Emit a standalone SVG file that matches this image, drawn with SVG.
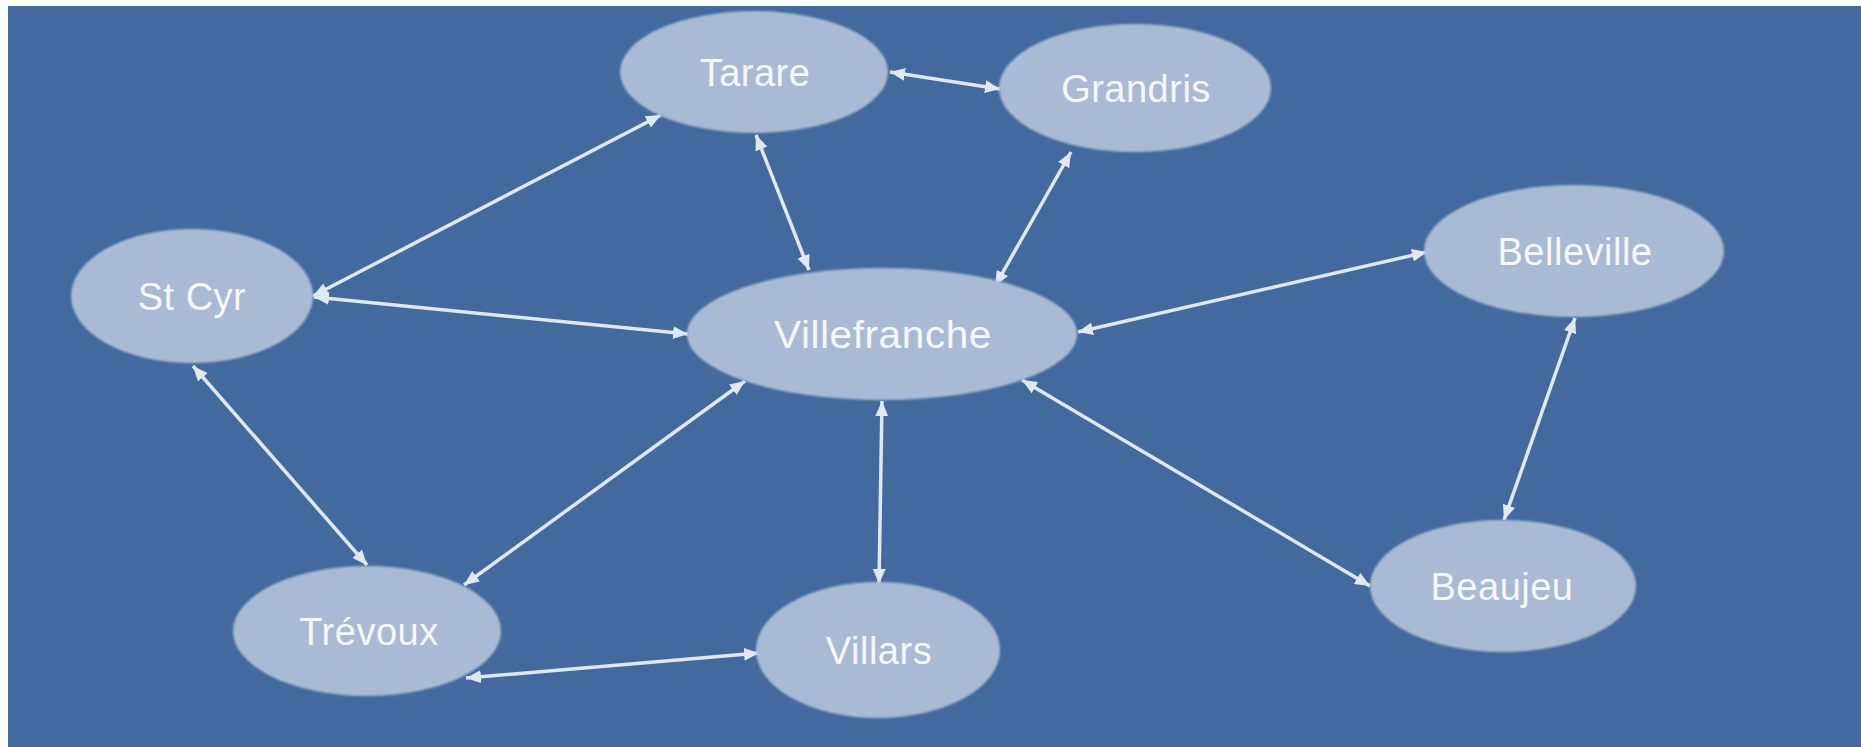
<svg xmlns="http://www.w3.org/2000/svg" width="1861" height="747" viewBox="0 0 1861 747">
<defs>
<style>
.node ellipse{fill:#a9bbd4;filter:url(#soft)}
.node text{font-family:"Liberation Sans",Arial,sans-serif;font-size:38px;fill:#f6f8fb;text-anchor:middle;letter-spacing:0.5px}
.edge{stroke:#dfe8f3;stroke-width:3.5;fill:none;marker-start:url(#ah);marker-end:url(#ah)}
</style>
<filter id="soft" x="-5%" y="-5%" width="110%" height="110%"><feGaussianBlur stdDeviation="1.2"/></filter>
<marker id="ah" viewBox="0 0 14 12" refX="14" refY="6" markerWidth="15" markerHeight="13" markerUnits="userSpaceOnUse" orient="auto-start-reverse">
<path d="M0,0 L14,6 L0,12 z" fill="#dfe8f3"/>
</marker>
</defs>
<rect x="0" y="0" width="1861" height="747" fill="#ffffff"/>
<rect x="8" y="6" width="1853" height="741" fill="#426a9e"/>
<g id="connectors">
<line class="edge" x1="890" y1="72" x2="1000" y2="89"/>
<line class="edge" x1="313" y1="296" x2="661" y2="115"/>
<line class="edge" x1="314" y1="297" x2="688" y2="334"/>
<line class="edge" x1="756" y1="135" x2="809" y2="270"/>
<line class="edge" x1="1071" y1="152" x2="995" y2="286"/>
<line class="edge" x1="1078" y1="332" x2="1427" y2="252"/>
<line class="edge" x1="1022" y1="380" x2="1370" y2="586"/>
<line class="edge" x1="1575" y1="318" x2="1504" y2="520"/>
<line class="edge" x1="193" y1="366" x2="367" y2="565"/>
<line class="edge" x1="745" y1="381" x2="464" y2="585"/>
<line class="edge" x1="882" y1="401" x2="879" y2="584"/>
<line class="edge" x1="466" y1="678" x2="759" y2="653"/>
</g>
<g id="tarare" class="node"><ellipse cx="754" cy="72" rx="134" ry="61"/><text x="755" y="86">Tarare</text></g>
<g id="grandris" class="node"><ellipse cx="1135" cy="88" rx="136" ry="64"/><text x="1136" y="102">Grandris</text></g>
<g id="stcyr" class="node"><ellipse cx="192" cy="296" rx="121" ry="67"/><text x="192" y="310">St Cyr</text></g>
<g id="villefranche" class="node"><ellipse cx="882" cy="334" rx="195" ry="66"/><text x="883" y="348" textLength="218" lengthAdjust="spacingAndGlyphs">Villefranche</text></g>
<g id="belleville" class="node"><ellipse cx="1574" cy="251" rx="150" ry="66"/><text x="1575" y="265">Belleville</text></g>
<g id="beaujeu" class="node"><ellipse cx="1503" cy="586" rx="133" ry="66"/><text x="1502" y="600">Beaujeu</text></g>
<g id="trevoux" class="node"><ellipse cx="367" cy="631" rx="134" ry="65"/><text x="369" y="645">Trévoux</text></g>
<g id="villars" class="node"><ellipse cx="878" cy="650" rx="122" ry="68"/><text x="879" y="664">Villars</text></g>
</svg>
